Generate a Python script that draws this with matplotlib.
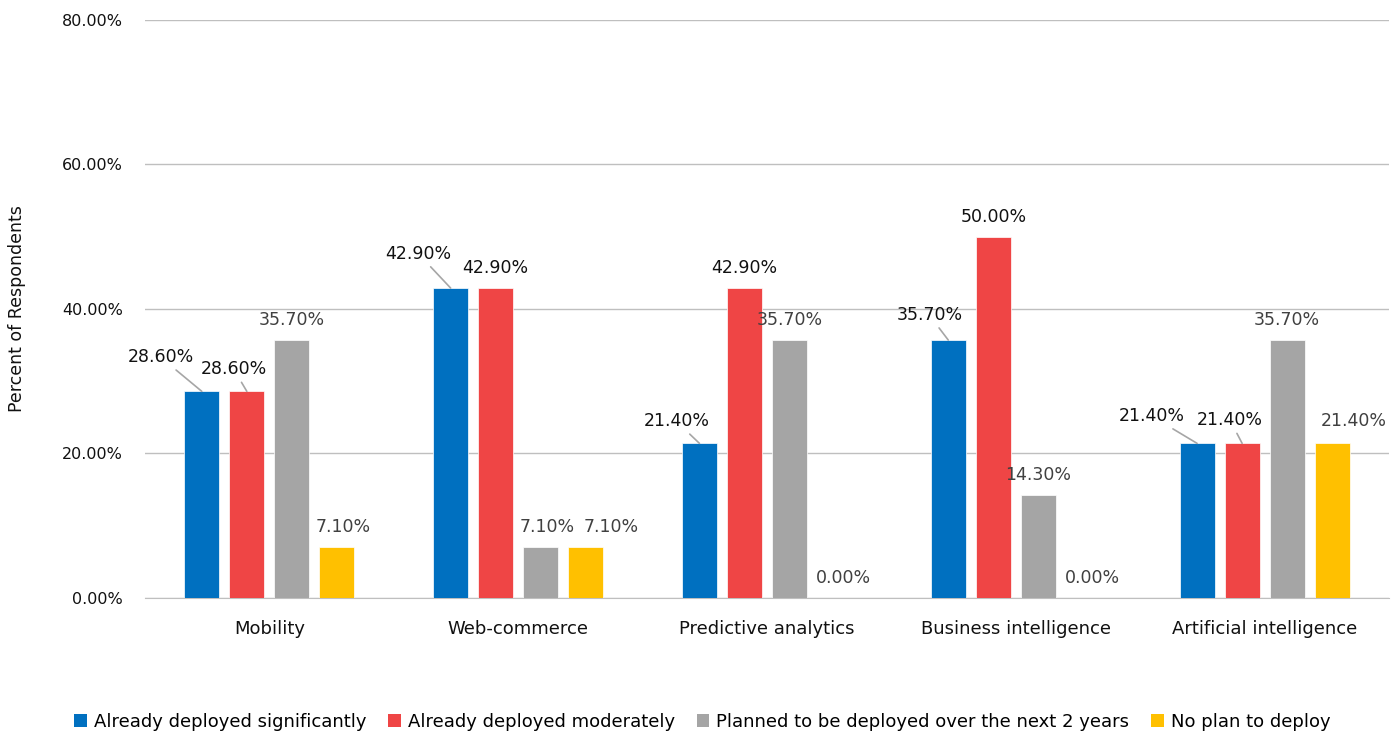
import numpy as np
import matplotlib
matplotlib.use('Agg')
import matplotlib.pyplot as plt
from matplotlib.patches import Patch
from matplotlib.ticker import FuncFormatter

# data (percent of respondents)
categories = ['Mobility', 'Web-commerce', 'Predictive analytics',
              'Business intelligence', 'Artificial intelligence']
series_names = ['Already deployed significantly', 'Already deployed moderately',
                'Planned to be deployed over the next 2 years', 'No plan to deploy']
deployed_sig = [28.6, 42.9, 21.4, 35.7, 21.4]
deployed_mod = [28.6, 42.9, 42.9, 50.0, 21.4]
planned = [35.7, 7.1, 35.7, 14.3, 35.7]
no_plan = [7.1, 7.1, 0.0, 0.0, 21.4]

colors = ['#0070C0', '#EF4545', '#A5A5A5', '#FFC000']
label_colors = ['#111111', '#111111', '#404040', '#404040']

# label offsets (pixels) for the labels that were moved off their bar, plus leader lines
moved = {
    (0, 0): (-41, 34), (1, 0): (-13, 22), (3, 0): (6, 20),
    (0, 1): (-32, 34), (2, 1): (6, 20), (3, 1): (25, 20),
    (0, 2): (-23, 22), (3, 2): (9, 20),
    (0, 3): (-19, 25), (3, 3): (9, 20),
    (0, 4): (-45, 27), (1, 4): (-12, 23), (3, 4): (22, 22),
}
leaders = [(0, 0), (1, 0), (0, 1), (0, 2), (0, 3), (0, 4), (1, 4)]

plt.rcParams['font.family'] = ['DejaVu Sans']

fig = plt.figure(figsize=(13.99, 7.35), dpi=100)
ax = fig.add_axes([0.1036, 0.1864, 0.8893, 0.7864])

x = np.arange(len(categories))
step = 0.181
width = 0.141
all_series = [deployed_sig, deployed_mod, planned, no_plan]

for i, vals in enumerate(all_series):
    pos = x + (i - 1.5) * step
    ax.bar(pos, vals, width, color=colors[i], edgecolor='white', linewidth=0.5, zorder=3)
    for j, v in enumerate(vals):
        dx, dy = moved.get((i, j), (0, 20))
        props = None
        if (i, j) in leaders:
            props = dict(arrowstyle='-', color='#A6A6A6', lw=1.2, shrinkA=1, shrinkB=0)
        ax.annotate(f'{v:.2f}%', xy=(pos[j], v), xytext=(dx, dy),
                    textcoords='offset pixels', ha='center', va='center',
                    fontsize=12.5, color=label_colors[i], arrowprops=props, zorder=4)

ax.set_xlim(-0.5, len(categories) - 0.5)
ax.set_ylim(0, 80)
ax.set_yticks([0, 20, 40, 60, 80])
ax.yaxis.set_major_formatter(FuncFormatter(lambda v, p: f'{v:.2f}%'))
ax.set_xticks(x)
ax.set_xticklabels(categories)
ax.tick_params(axis='x', length=0, pad=16, labelsize=13, labelcolor='#111111')
ax.tick_params(axis='y', length=0, pad=16, labelsize=11.5, labelcolor='#111111')

ax.grid(axis='y', color='#BFBFBF', linewidth=1, zorder=0)
for s in ['top', 'right', 'left']:
    ax.spines[s].set_visible(False)
ax.spines['bottom'].set_color('#BFBFBF')

ax.set_ylabel('Percent of Respondents', fontsize=12.5, color='#111111')
ax.yaxis.set_label_coords(-0.0957, 0.5)

handles = [Patch(facecolor=c, edgecolor='none') for c in colors]
fig.legend(handles, series_names, loc='center', bbox_to_anchor=(0.502, 0.018),
           ncol=4, frameon=False, fontsize=13, handlelength=0.7, handleheight=0.7,
           handletextpad=0.4, columnspacing=1.2)

plt.savefig('out.png', dpi=100)
